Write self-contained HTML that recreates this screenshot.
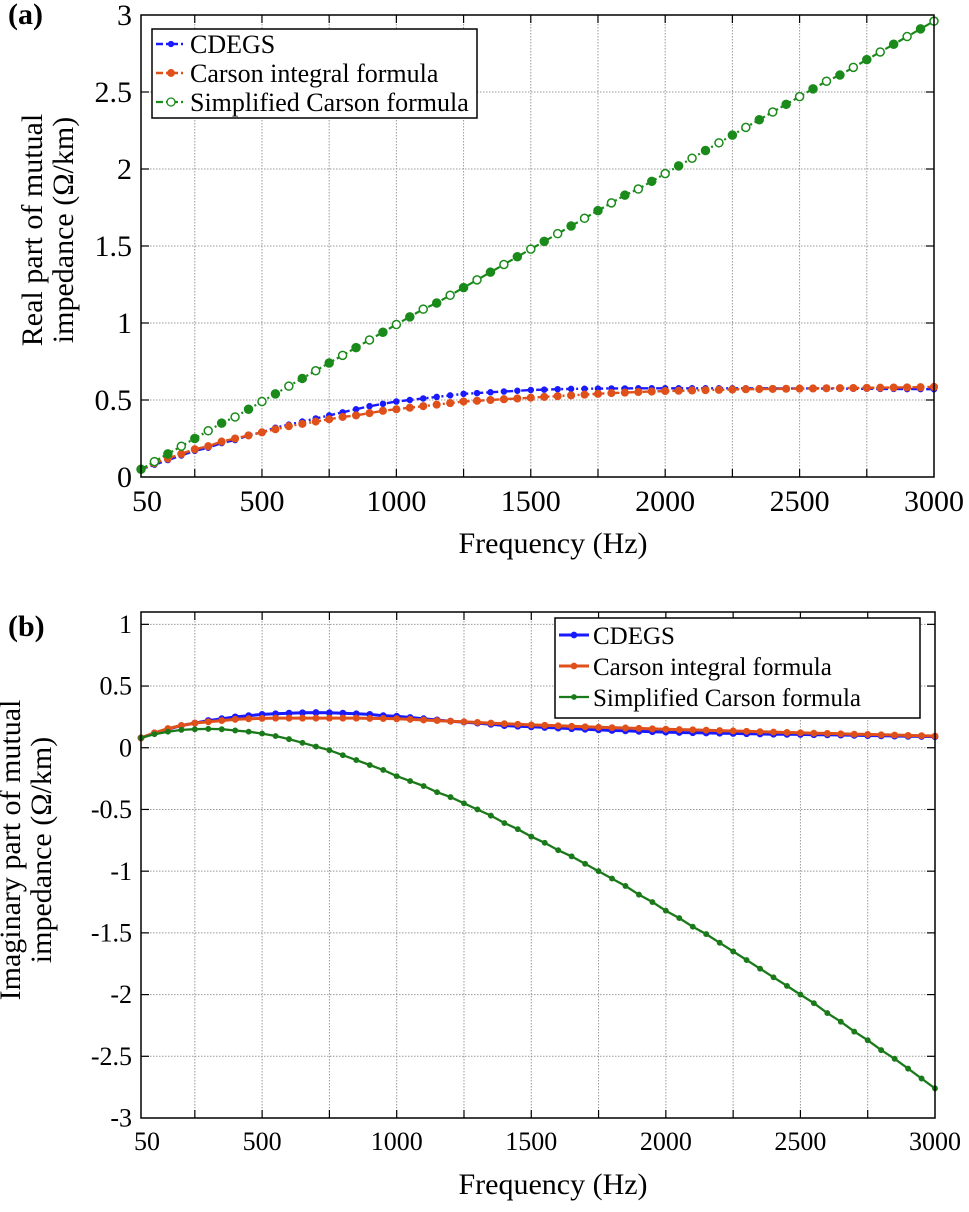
<!DOCTYPE html>
<html><head><meta charset="utf-8">
<style>
html,body{margin:0;padding:0;background:#fff;}
svg{display:block;font-family:"Liberation Serif",serif;}
</style></head>
<body>
<svg id="chart" width="969" height="1212" viewBox="0 0 969 1212"></svg>
<script>
const freqs=[50,100,150,200,250,300,350,400,450,500,550,600,650,700,750,800,850,900,950,1000,1050,1100,1150,1200,1250,1300,1350,1400,1450,1500,1550,1600,1650,1700,1750,1800,1850,1900,1950,2000,2050,2100,2150,2200,2250,2300,2350,2400,2450,2500,2550,2600,2650,2700,2750,2800,2850,2900,2950,3000];
const realCdegs=[.05,.08,.11,.14,.17,.19,.22,.24,.27,.29,.32,.34,.36,.38,.40,.42,.44,.46,.475,.49,.50,.51,.52,.53,.54,.545,.55,.555,.56,.565,.567,.57,.572,.573,.574,.575,.575,.576,.576,.576,.576,.576,.576,.576,.576,.576,.576,.575,.575,.575,.575,.574,.574,.573,.573,.572,.572,.571,.571,.57];
const realCarson=[.05,.09,.12,.15,.18,.20,.23,.25,.27,.29,.31,.33,.345,.36,.375,.39,.40,.415,.43,.44,.45,.46,.47,.48,.49,.495,.50,.505,.51,.515,.52,.525,.53,.535,.54,.545,.548,.552,.555,.558,.56,.562,.564,.566,.568,.57,.571,.572,.573,.574,.575,.576,.577,.578,.579,.58,.581,.582,.583,.585];
const realSimple=[.05,.10,.15,.20,.25,.30,.35,.39,.44,.49,.54,.59,.64,.69,.74,.79,.84,.89,.94,.99,1.04,1.09,1.13,1.18,1.23,1.28,1.33,1.38,1.43,1.48,1.53,1.58,1.63,1.68,1.73,1.78,1.83,1.87,1.92,1.97,2.02,2.07,2.12,2.17,2.22,2.27,2.32,2.37,2.42,2.47,2.52,2.57,2.61,2.66,2.71,2.76,2.81,2.86,2.91,2.96];
const imagCdegs=[.08,.12,.15,.18,.20,.22,.235,.25,.26,.27,.275,.28,.283,.285,.283,.28,.275,.27,.26,.255,.245,.235,.225,.215,.208,.20,.19,.18,.175,.17,.165,.16,.155,.15,.145,.14,.137,.133,.13,.127,.124,.122,.12,.118,.116,.114,.112,.11,.109,.108,.106,.105,.103,.101,.099,.097,.095,.093,.092,.09];
const imagCarson=[.08,.12,.155,.18,.20,.21,.22,.23,.235,.238,.24,.24,.24,.24,.24,.24,.24,.238,.237,.235,.23,.225,.22,.215,.21,.205,.2,.195,.19,.185,.182,.178,.174,.17,.166,.163,.16,.157,.153,.15,.147,.145,.142,.139,.136,.133,.13,.127,.124,.121,.118,.116,.113,.11,.108,.105,.103,.1,.098,.095];
const imagSimple=[.08,.11,.13,.145,.15,.153,.15,.14,.13,.115,.095,.07,.04,.01,-.02,-.06,-.10,-.14,-.18,-.23,-.27,-.31,-.36,-.40,-.45,-.50,-.55,-.61,-.66,-.72,-.77,-.83,-.88,-.94,-1.0,-1.06,-1.12,-1.19,-1.25,-1.32,-1.38,-1.45,-1.51,-1.58,-1.65,-1.72,-1.79,-1.86,-1.93,-2.0,-2.07,-2.15,-2.22,-2.30,-2.37,-2.45,-2.52,-2.60,-2.68,-2.76];
const xTicks=[250,500,750,1000,1250,1500,1750,2000,2250,2500,2750];
const xLabels=["50","500","1000","1500","2000","2500","3000"];
const xLabelVals=[50,500,1000,1500,2000,2500,3000];
const yTicksA=[0,0.5,1,1.5,2,2.5,3];
const yLabelsA=["0","0.5","1","1.5","2","2.5","3"];
const yTicksB=[-3,-2.5,-2,-1.5,-1,-0.5,0,0.5,1];
const yLabelsB=["-3","-2.5","-2","-1.5","-1","-0.5","0","0.5","1"];

const NS="http://www.w3.org/2000/svg";
const svg=document.getElementById('chart');
function mk(tag,attrs,parent){const e=document.createElementNS(NS,tag);for(const k in attrs)e.setAttribute(k,attrs[k]);(parent||svg).appendChild(e);return e;}

function panel(o){
  const g=mk('g',{});
  
  
  const X=v=>o.x0+(v-50)/(3000-50)*(o.x1-o.x0);
  const Y=v=>o.y1-(v-o.ymin)/(o.ymax-o.ymin)*(o.y1-o.y0);
  xTicks.forEach(t=>{
    const l=mk('line',{x1:X(t),x2:X(t),y1:o.y0,y2:o.y1,stroke:'#999','stroke-width':1,'stroke-dasharray':'1.5,1.5'},g);
    
    
    mk('line',{x1:X(t),x2:X(t),y1:o.y1,y2:o.y1-8,stroke:'#000','stroke-width':1.2},g);
    mk('line',{x1:X(t),x2:X(t),y1:o.y0,y2:o.y0+8,stroke:'#000','stroke-width':1.2},g);
  });
  o.yt.forEach(t=>{
    if(t>o.ymin && Y(t)>o.y0+1){
      const l=mk('line',{x1:o.x0,x2:o.x1,y1:Y(t),y2:Y(t),stroke:'#999','stroke-width':1,'stroke-dasharray':'1.5,1.5'},g);
      
      
      mk('line',{x1:o.x0,x2:o.x0+8,y1:Y(t),y2:Y(t),stroke:'#000','stroke-width':1.2},g);
      mk('line',{x1:o.x1,x2:o.x1-8,y1:Y(t),y2:Y(t),stroke:'#000','stroke-width':1.2},g);
    }
  });
  o.series.forEach(s=>{
    const sg=mk('g',{},g);
    
    
    const pts=freqs.map((f,i)=>X(f).toFixed(1)+','+Y(s.vals[i]).toFixed(1)).join(' ');
    mk('polyline',{points:pts,fill:'none',stroke:s.color,'stroke-width':s.w,'stroke-dasharray':s.dash||'none'},sg);
    freqs.forEach((f,i)=>{
      const c=mk('circle',{cx:X(f),cy:Y(s.vals[i]),r:s.r,fill:(s.open&&i%2)?'#fff':s.color,stroke:s.color,'stroke-width':1.5},sg);
      
      
    });
  });
  const fr=mk('rect',{x:o.x0,y:o.y0,width:o.x1-o.x0,height:o.y1-o.y0,fill:'none',stroke:'#000','stroke-width':1.5},g);
  
  
  xLabelVals.forEach((v,i)=>{
    const t=mk('text',{x:X(v)+(i==0?6:0),y:o.y1+o.xly,'text-anchor':'middle','font-size':o.fs},g);
    
    
    t.textContent=xLabels[i];
  });
  o.yt.forEach((v,i)=>{
    const t=mk('text',{x:o.x0-9,y:Y(v)+o.fs*0.33,'text-anchor':'end','font-size':o.fs},g);
    
    
    t.textContent=o.yl[i];
  });
  const xt=mk('text',{x:553,y:o.y1+76,'text-anchor':'middle','font-size':30},g);
  
  
  xt.textContent='Frequency (Hz)';
  const yt=mk('text',{transform:`translate(${o.ytx},${o.ytc}) rotate(-90)`,'text-anchor':'middle','font-size':30},g);
  
  
  const t1=mk('tspan',{x:0,dy:0},yt);t1.textContent=o.ylab1;
  const t2=mk('tspan',{x:0,dy:31},yt);t2.textContent='impedance (\u03A9/km)';
  const pl=mk('text',{x:o.plx,y:o.ply,'font-size':30,'font-weight':'bold'},g);
  
  
  pl.textContent=o.plabel;
  const L=o.leg;
  const lg=mk('g',{},g);
  
  
  mk('rect',{x:L.x,y:L.y,width:L.w,height:L.h,fill:'#fff',stroke:'#000','stroke-width':1.5},lg);
  o.series.forEach((s,i)=>{
    const ey=L.y+L.first+i*L.step;
    const eg=mk('g',{},lg);
    
    
    mk('line',{x1:L.x+4,x2:L.x+34,y1:ey,y2:ey,stroke:s.color,'stroke-width':s.w,'stroke-dasharray':s.dash||'none'},eg);
    mk('circle',{cx:L.x+19,cy:ey,r:s.r,fill:s.open?'#fff':s.color,stroke:s.color,'stroke-width':1.3},eg);
    const t=mk('text',{x:L.x+38,y:ey+9,'font-size':L.fs},eg);
    t.textContent=s.label;
  });
}

panel({name:'panel-a-real-part',x0:141,x1:934,y0:15,y1:477,ymin:0,ymax:3,yt:yTicksA,yl:yLabelsA,fs:30,xly:34,
  ytx:42,ytc:230,ylab1:'Real part of mutual',plabel:'(a)',plx:8,ply:24,
  leg:{x:152,y:29,w:325,h:89,first:15,step:29,fs:26},
  series:[
    {name:'series-cdegs',label:'CDEGS',vals:realCdegs,color:'#1a1aff',w:2.4,dash:'7,3,2,3',r:2.5},
    {name:'series-carson-integral',label:'Carson integral formula',vals:realCarson,color:'#e0501a',w:2.4,dash:'7,3,2,3',r:3.3},
    {name:'series-simplified-carson',label:'Simplified Carson formula',vals:realSimple,color:'#1a8a1a',w:2.2,dash:'7,3,2,3',r:4,open:true}
  ]});
panel({name:'panel-b-imaginary-part',x0:141,x1:935,y0:612,y1:1118,ymin:-3,ymax:1.1,yt:yTicksB,yl:yLabelsB,fs:26,xly:32,
  ytx:20,ytc:850,ylab1:'Imaginary part of mutual',plabel:'(b)',plx:8,ply:636,
  leg:{x:555,y:618,w:365,h:100,first:17,step:31,fs:25},
  series:[
    {name:'series-cdegs',label:'CDEGS',vals:imagCdegs,color:'#1a1aff',w:3,r:2.7},
    {name:'series-carson-integral',label:'Carson integral formula',vals:imagCarson,color:'#e0501a',w:3,r:2.7},
    {name:'series-simplified-carson',label:'Simplified Carson formula',vals:imagSimple,color:'#1a7a1a',w:2.3,r:2.2}
  ]});
</script>
</body></html>
